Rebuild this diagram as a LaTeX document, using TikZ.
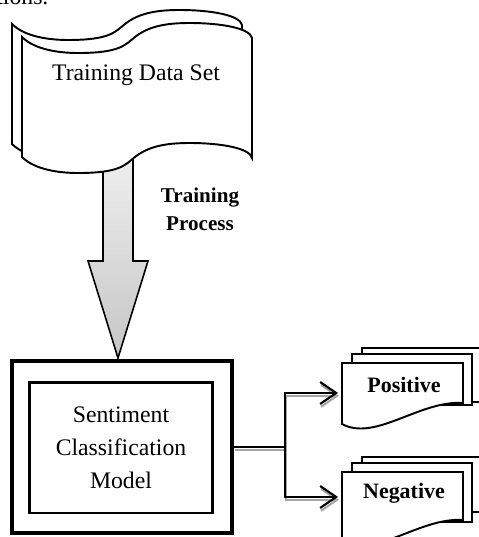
\documentclass[tikz,border=0pt]{standalone}
\usepackage{fontspec}
\setmainfont{Liberation Serif}
\usetikzlibrary{arrows.meta}

% front page of an output stack, #1 #2 = top left corner, #3 = height of right edge
\newcommand{\docpage}[3]{%
  \begin{scope}[shift={(#1,#2)}]
    \filldraw[docline] (0,0) -- (121,0) -- (121,#3)
      .. controls (78,#3-3) and (33,#3+39) .. (0,#3+21) -- cycle;
  \end{scope}}
% page behind it, only its top and right side show
\newcommand{\backpage}[3]{%
  \filldraw[docline] (#1,#2) rectangle ++(120,#3);}

\begin{document}
\begin{tikzpicture}[x=0.02cm, y=-0.02cm,
  docline/.style={draw=black, fill=white, line width=1.1pt},
  flagline/.style={draw=black, fill=white, line width=1.1pt},
  conn/.style={line width=1.2pt, line cap=rect,
    preaction={draw=black!35, line width=1.2pt, transform canvas={xshift=0.5pt, yshift=-1.6pt}}},
  >={Straight Barb[length=0.32cm, width=0.44cm, line width=1.2pt]}]
\useasboundingbox (0,0) rectangle (478,537);

% line of the page above
\node[anchor=base west, inner sep=0pt, font=\fontsize{13.5}{16}\selectfont] (prev) at (-4,5) {tions.};

% big arrow for the training process
\shadedraw[line width=0.9pt, top color=gray!12, bottom color=gray!45]
  (103,150) -- (103,261) -- (88,261) -- (118,358) -- (148,261) -- (133,261) -- (133,150) -- cycle;
\node[align=center, font=\bfseries\fontsize{12}{15.9}\selectfont] (proc) at (200,209) {Training\\Process};

% training data set, back sheet
\filldraw[flagline, shift={(-10,-13)}] (22,37) .. controls (35,50) and (60,53) .. (78,53)
  .. controls (120,53) and (125,45) .. (135,37) .. controls (150,25) and (170,23) .. (190,23)
  .. controls (220,23) and (250,28) .. (252,38) -- (252,158)
  .. controls (250,148) and (220,143) .. (190,143) .. controls (170,143) and (150,145) .. (135,157)
  .. controls (125,165) and (120,173) .. (78,173) .. controls (60,173) and (35,170) .. (22,157) -- cycle;
% training data set, front sheet
\filldraw[flagline] (22,37) .. controls (35,50) and (60,53) .. (78,53)
  .. controls (120,53) and (125,45) .. (135,37) .. controls (150,25) and (170,23) .. (190,23)
  .. controls (220,23) and (250,28) .. (252,38) -- (252,158)
  .. controls (250,148) and (220,143) .. (190,143) .. controls (170,143) and (150,145) .. (135,157)
  .. controls (125,165) and (120,173) .. (78,173) .. controls (60,173) and (35,170) .. (22,157) -- cycle;
\node[font=\fontsize{13.5}{16}\selectfont] (tds) at (136,75) {Training Data Set};

% model boxes
\node[draw, line width=1.9pt, minimum width=4.4cm, minimum height=3.44cm] (model) at (122,447) {};
\node[draw, line width=1.7pt, minimum width=3.68cm, minimum height=2.62cm, align=center,
  font=\fontsize{13.5}{18.7}\selectfont] (core) at (121,447.5) {Sentiment\\Classification\\Model};

% output stacks
\backpage{362}{348}{54}
\backpage{352}{354}{51}
\docpage{342}{363}{40}
\node[font=\bfseries\fontsize{12.5}{15}\selectfont] (pos) at (404,385) {Positive};
\backpage{362}{457}{55}
\backpage{352}{463}{59}
\docpage{342}{472}{48}
\node[font=\bfseries\fontsize{12.5}{15}\selectfont] (neg) at (404,493) {Negative};

% connectors
\coordinate (split) at (285,447);
\coordinate (posin) at (338,393);
\coordinate (negin) at (338,497);
\draw[conn] (model.east) -- (split);
\draw[conn, ->] (split) |- (posin);
\draw[conn, ->] (split) |- (negin);

\end{tikzpicture}
\end{document}
